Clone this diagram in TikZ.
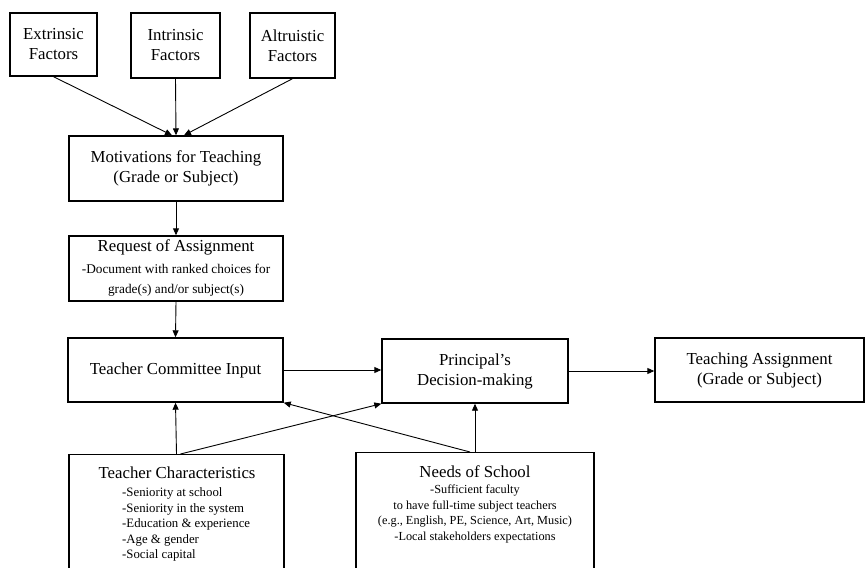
\documentclass[tikz,border=0pt]{standalone}
\usepackage{fontspec}
\setmainfont{Liberation Serif}
\usetikzlibrary{arrows.meta}
\begin{document}
\begin{tikzpicture}[x=1pt,y=-1pt,
  box/.style={draw, line width=1.4pt, inner sep=0pt, align=center, font=\fontsize{16.8}{20}\selectfont},
  title/.style={inner sep=0pt, align=center, font=\fontsize{16.8}{20}\selectfont},
  smalltext/.style={inner sep=0pt, font=\fontsize{12.8}{15.6}\selectfont},
  conn/.style={line width=0.9pt, -{Triangle[length=7pt,width=6pt]}}]
\useasboundingbox (0,0) rectangle (866,567);
\clip (0,0) rectangle (866,567);
% top factor boxes
\node[box, minimum width=87pt, minimum height=63pt] (ext) at (53.5,44.5) {Extrinsic\\Factors};
\node[box, minimum width=89pt, minimum height=65pt] (int) at (175.5,45.5) {Intrinsic\\Factors};
\node[box, minimum width=85pt, minimum height=65pt] (alt) at (292.5,45.5) {Altruistic\\Factors};
% chain
\node[box, minimum width=214pt, minimum height=65pt] (mot) at (176,168.5) {Motivations for Teaching\\(Grade or Subject)};
\node[box, minimum width=214pt, minimum height=65pt] (req) at (176,268.5) {Request of Assignment\\[2pt]\fontsize{13.3}{15.5}\selectfont -Document with ranked choices for\\\fontsize{13.3}{15.5}\selectfont grade(s) and/or subject(s)};
\node[box, minimum width=215pt, minimum height=64pt] (tci) at (175.5,370) {Teacher Committee Input};
\node[box, minimum width=186pt, minimum height=64pt] (pri) at (475,371) {Principal’s\\Decision-making};
\node[box, minimum width=209pt, minimum height=64pt] (ta) at (759.5,370) {Teaching Assignment\\(Grade or Subject)};
% bottom boxes (cut off at the lower edge)
\node[box, minimum width=215pt, minimum height=200pt, anchor=north] (tc) at (176.5,454) {};
\node[title] (tctitle) at (177,473) {Teacher Characteristics};
\node[smalltext, align=left, anchor=north west] (tclist) at (122,487.5) {-Seniority at school\\-Seniority in the system\\-Education \& experience\\-Age \& gender\\-Social capital};
\node[box, minimum width=238pt, minimum height=200pt, anchor=north] (nos) at (475,452) {};
\node[title] (nostitle) at (475,472) {Needs of School};
\node[smalltext, align=center, anchor=north, font=\fontsize{12.3}{15.8}\selectfont] (noslist) at (475,484.5) {-Sufficient faculty\\to have full-time subject teachers\\(e.g., English, PE, Science, Art, Music)\\-Local stakeholders expectations};
% connectors
\draw[conn] (ext.south) -- ([xshift=-4pt]mot.north);
\draw[conn] (int.south) -- (mot.north);
\draw[conn] (alt.south) -- ([xshift=8pt]mot.north);
\draw[conn] (mot.south) -- (req.north);
\draw[conn] (req.south) -- (tci.north);
\draw[conn] (tci.east) -- (pri.west |- tci.east);
\draw[conn] (pri.east) -- (ta.west |- pri.east);
\draw[conn] (tc.north) -- (tci.south);
\draw[conn] ([xshift=4pt]tc.north) -- (pri.south west);
\draw[conn] ([xshift=-5pt]nos.north) -- (tci.south east);
\draw[conn] (nos.north) -- (pri.south);
\end{tikzpicture}
\end{document}
